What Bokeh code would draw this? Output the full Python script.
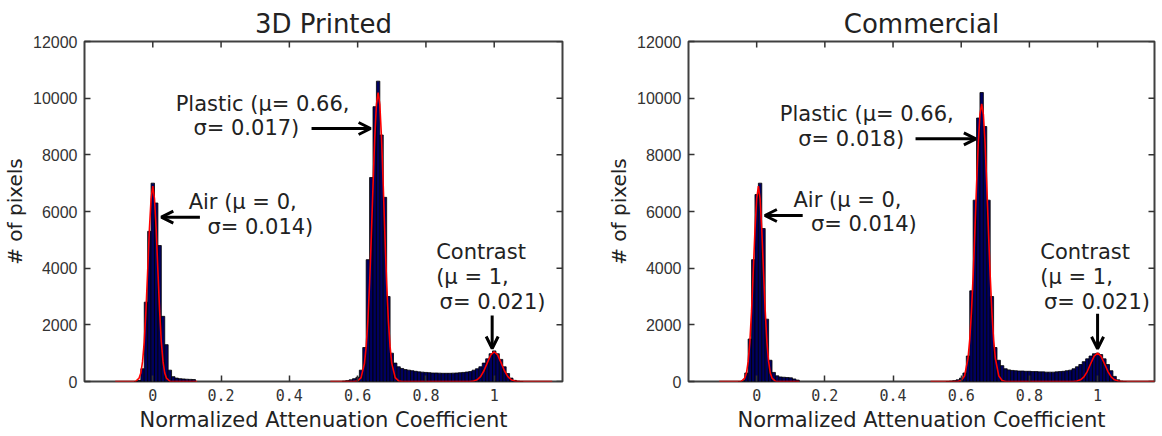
import math
from bokeh.plotting import figure
from bokeh.layouts import row
from bokeh.models import (Range1d, FixedTicker, LinearAxis, Arrow, OpenHead, Label,
                          NumeralTickFormatter)
from bokeh.embed import file_html
from bokeh.resources import INLINE

NAN = float("nan")

# ---------------- data ----------------
titles = ["3D Printed", "Commercial"]
x_label = "Normalized Attenuation Coefficient"
y_label = "# of pixels"
x_ticks = [0, 0.2, 0.4, 0.6, 0.8, 1]
y_ticks = [0, 2000, 4000, 6000, 8000, 10000, 12000]

bin_width = 0.01
air_start = -0.05      # centre of first bin of the air segment
main_start = 0.56      # centre of first bin of the plastic/contrast segment

printed_air_counts = [0, 40, 450, 2800, 5300, 7000, 6300, 4800, 2300, 1300, 400, 170,
                      120, 100, 90, 80, 75, 70]
printed_main_counts = [10, 30, 60, 100, 150, 400, 1200, 4300, 7200, 9700, 10600, 8700,
                       6500, 3000, 1000, 650, 520, 460, 420, 400, 380, 360, 340, 330,
                       320, 310, 300, 300, 295, 290, 290, 290, 295, 300, 310, 320, 335,
                       350, 400, 450, 520, 650, 800, 980, 1080, 980, 780, 520, 280, 120,
                       40, 10, 0]

commercial_air_counts = [0, 30, 300, 1500, 4300, 6600, 7000, 5400, 2200, 750, 320, 200,
                         160, 150, 140, 130, 90, 50]
commercial_main_counts = [0, 10, 30, 60, 120, 300, 900, 3200, 6400, 9300, 10200, 9000,
                          6400, 3000, 1200, 750, 560, 450, 410, 390, 380, 370, 370, 360,
                          360, 350, 350, 340, 340, 330, 330, 330, 340, 350, 360, 380, 400,
                          450, 520, 600, 700, 800, 900, 980, 1000, 950, 800, 600, 380, 180,
                          60, 10, 0]

# fitted (red) curves
printed_fit_x = [-0.11, -0.06, -0.05, -0.04, -0.035, -0.03, -0.025, -0.02, -0.015, -0.01,
                 -0.005, 0.0, 0.005, 0.01, 0.015, 0.02, 0.025, 0.03, 0.035, 0.04, 0.05,
                 0.06, 0.13, NAN, 0.52, 0.59, 0.60, 0.61, 0.62, 0.625, 0.63, 0.635, 0.64,
                 0.645, 0.65, 0.655, 0.66, 0.665, 0.67, 0.675, 0.68, 0.685, 0.69, 0.695,
                 0.70, 0.71, 0.72, 0.73, 0.93, 0.94, 0.95, 0.96, 0.97, 0.98, 0.99, 1.00,
                 1.01, 1.02, 1.03, 1.04, 1.05, 1.06, 1.07, 1.17]
printed_fit_y = [0, 0, 10, 120, 300, 700, 1400, 2500, 3900, 5350,
                 6450, 6900, 6450, 5350, 3900, 2500, 1400, 700, 300, 120, 10,
                 0, 0, NAN, 0, 0, 20, 135, 640, 1230, 2150, 3460, 5100,
                 6900, 8580, 9770, 10200, 9770, 8580, 6900, 5100, 3460, 2150, 1230,
                 640, 135, 20, 0, 0, 18, 62, 171, 379, 667, 940, 1050,
                 940, 667, 379, 171, 62, 18, 0, 0]

commercial_fit_x = [-0.11, -0.055, -0.045, -0.035, -0.03, -0.025, -0.02, -0.015, -0.01,
                    -0.005, 0.0, 0.005, 0.01, 0.015, 0.02, 0.025, 0.03, 0.035, 0.04,
                    0.045, 0.055, 0.065, 0.125, NAN, 0.51, 0.59, 0.60, 0.61, 0.62, 0.625,
                    0.63, 0.635, 0.64, 0.645, 0.65, 0.655, 0.66, 0.665, 0.67, 0.675, 0.68,
                    0.685, 0.69, 0.695, 0.70, 0.71, 0.72, 0.73, 0.93, 0.94, 0.95, 0.96,
                    0.97, 0.98, 0.99, 1.00, 1.01, 1.02, 1.03, 1.04, 1.05, 1.06, 1.07, 1.18]
commercial_fit_y = [0, 0, 10, 120, 300, 700, 1400, 2500, 3900,
                    5350, 6450, 6900, 6450, 5350, 3900, 2500, 1400, 700, 300,
                    120, 10, 0, 0, NAN, 0, 0, 38, 206, 830, 1480,
                    2450, 3740, 5290, 6930, 8400, 9430, 9800, 9430, 8400, 6930, 5290,
                    3740, 2450, 1480, 830, 206, 38, 0, 0, 17, 59, 163,
                    360, 635, 893, 1000, 893, 635, 360, 163, 59, 17, 0, 0]

# annotation texts: (text, x, y) in data units, left aligned
printed_notes = [("Plastic (\u03bc= 0.66,", 0.067, 9810),
                 ("\u03c3= 0.017)", 0.119, 8930),
                 ("Air (\u03bc = 0,", 0.105, 6330),
                 ("\u03c3= 0.014)", 0.160, 5470),
                 ("Contrast", 0.830, 4560),
                 ("(\u03bc = 1,", 0.830, 3680),
                 ("\u03c3= 0.021)", 0.840, 2800)]
printed_arrows = [(0.465, 8930, 0.638, 8930),
                  (0.138, 5800, 0.025, 5800),
                  (0.994, 2330, 0.994, 1165)]

commercial_notes = [("Plastic (\u03bc= 0.66,", 0.068, 9450),
                    ("\u03c3= 0.018)", 0.122, 8565),
                    ("Air (\u03bc = 0,", 0.108, 6410),
                    ("\u03c3= 0.014)", 0.159, 5565),
                    ("Contrast", 0.832, 4560),
                    ("(\u03bc = 1,", 0.832, 3680),
                    ("\u03c3= 0.021)", 0.843, 2800)]
commercial_arrows = [(0.466, 8565, 0.643, 8565),
                     (0.135, 5860, 0.024, 5860),
                     (1.0, 2390, 1.0, 1155)]

panels = [
    dict(title=titles[0], air=printed_air_counts, main=printed_main_counts,
         fx=printed_fit_x, fy=printed_fit_y, notes=printed_notes, arrows=printed_arrows,
         x_end=1.2, frame_width=478, border_right=42),
    dict(title=titles[1], air=commercial_air_counts, main=commercial_main_counts,
         fx=commercial_fit_x, fy=commercial_fit_y, notes=commercial_notes,
         arrows=commercial_arrows, x_end=1.167, frame_width=466, border_right=2),
]

FONT = "DejaVu Sans"
TEXT = "#222222"
FRAME_H = 340
TICK_PX = 6


def make_panel(d):
    p = figure(frame_width=d["frame_width"], frame_height=FRAME_H,
               x_range=Range1d(-0.2, d["x_end"]), y_range=Range1d(0, 12000),
               min_border_left=79, min_border_right=d["border_right"],
               min_border_top=41, min_border_bottom=52,
               output_backend="svg", toolbar_location=None,
               x_axis_type=None, y_axis_type=None)
    p.background_fill_color = "white"
    p.border_fill_color = "white"
    p.outline_line_color = "#404040"
    p.outline_line_width = 2
    p.xgrid.visible = False
    p.ygrid.visible = False

    p.title.text = d["title"]
    p.title.text_font = FONT
    p.title.text_font_size = "26px"
    p.title.text_font_style = "normal"
    p.title.text_color = TEXT
    p.title.align = "center"
    p.title.standoff = 6
    p.title.offset = 0

    xt = FixedTicker(ticks=x_ticks, minor_ticks=[])
    yt = FixedTicker(ticks=y_ticks, minor_ticks=[])

    xaxis = LinearAxis(ticker=xt, formatter=NumeralTickFormatter(format="0.[0]"),
                       axis_label=x_label)
    yaxis = LinearAxis(ticker=yt, axis_label=y_label)
    for ax in (xaxis, yaxis):
        ax.axis_line_color = None
        ax.major_tick_in = TICK_PX
        ax.major_tick_out = 0
        ax.major_tick_line_color = "#333333"
        ax.major_tick_line_width = 1.5
        ax.minor_tick_line_color = None
        ax.major_label_text_color = "#333333"
        ax.axis_label_text_font = FONT
        ax.axis_label_text_font_style = "normal"
        ax.axis_label_text_color = TEXT
    xaxis.major_label_text_font = "DejaVu Sans Mono"
    xaxis.major_label_text_font_size = "15px"
    xaxis.major_label_standoff = 7
    xaxis.axis_label_text_font_size = "21px"
    xaxis.axis_label_standoff = 4
    yaxis.major_label_text_font = "Liberation Sans"
    yaxis.major_label_text_font_size = "16px"
    yaxis.major_label_standoff = 7
    yaxis.axis_label_text_font_size = "20px"
    yaxis.axis_label_standoff = 3
    p.add_layout(xaxis, "below")
    p.add_layout(yaxis, "left")

    # inward tick marks on the top and right edges (clipped to the frame)
    p.scatter(x=x_ticks, y=[12000] * len(x_ticks), marker="dash", size=2 * TICK_PX,
              angle=math.pi / 2, line_color="#333333", line_width=1.5)
    p.scatter(x=[d["x_end"]] * len(y_ticks), y=y_ticks, marker="dash", size=2 * TICK_PX,
              line_color="#333333", line_width=1.5)

    # histogram bars
    for start, counts in ((air_start, d["air"]), (main_start, d["main"])):
        centers = [start + bin_width * i for i in range(len(counts))]
        p.quad(left=[c - bin_width / 2 for c in centers],
               right=[c + bin_width / 2 for c in centers],
               bottom=0, top=counts,
               fill_color="#000060", line_color="black", line_width=0.8)

    # fitted curve
    p.line(d["fx"], d["fy"], line_color="#ff0000", line_width=1.6)

    for txt, x, y in d["notes"]:
        p.add_layout(Label(x=x, y=y, text=txt, text_font=FONT, text_font_size="21px",
                           text_color=TEXT, text_align="left", text_baseline="middle"))
    for x0, y0, x1, y1 in d["arrows"]:
        p.add_layout(Arrow(x_start=x0, y_start=y0, x_end=x1, y_end=y1,
                           line_width=3, line_color="black",
                           end=OpenHead(size=12, line_width=3, line_color="black")))
    return p


plots = [make_panel(d) for d in panels]
layout = row(*plots, spacing=0)

open("out.html", "w").write(file_html(layout, INLINE))
